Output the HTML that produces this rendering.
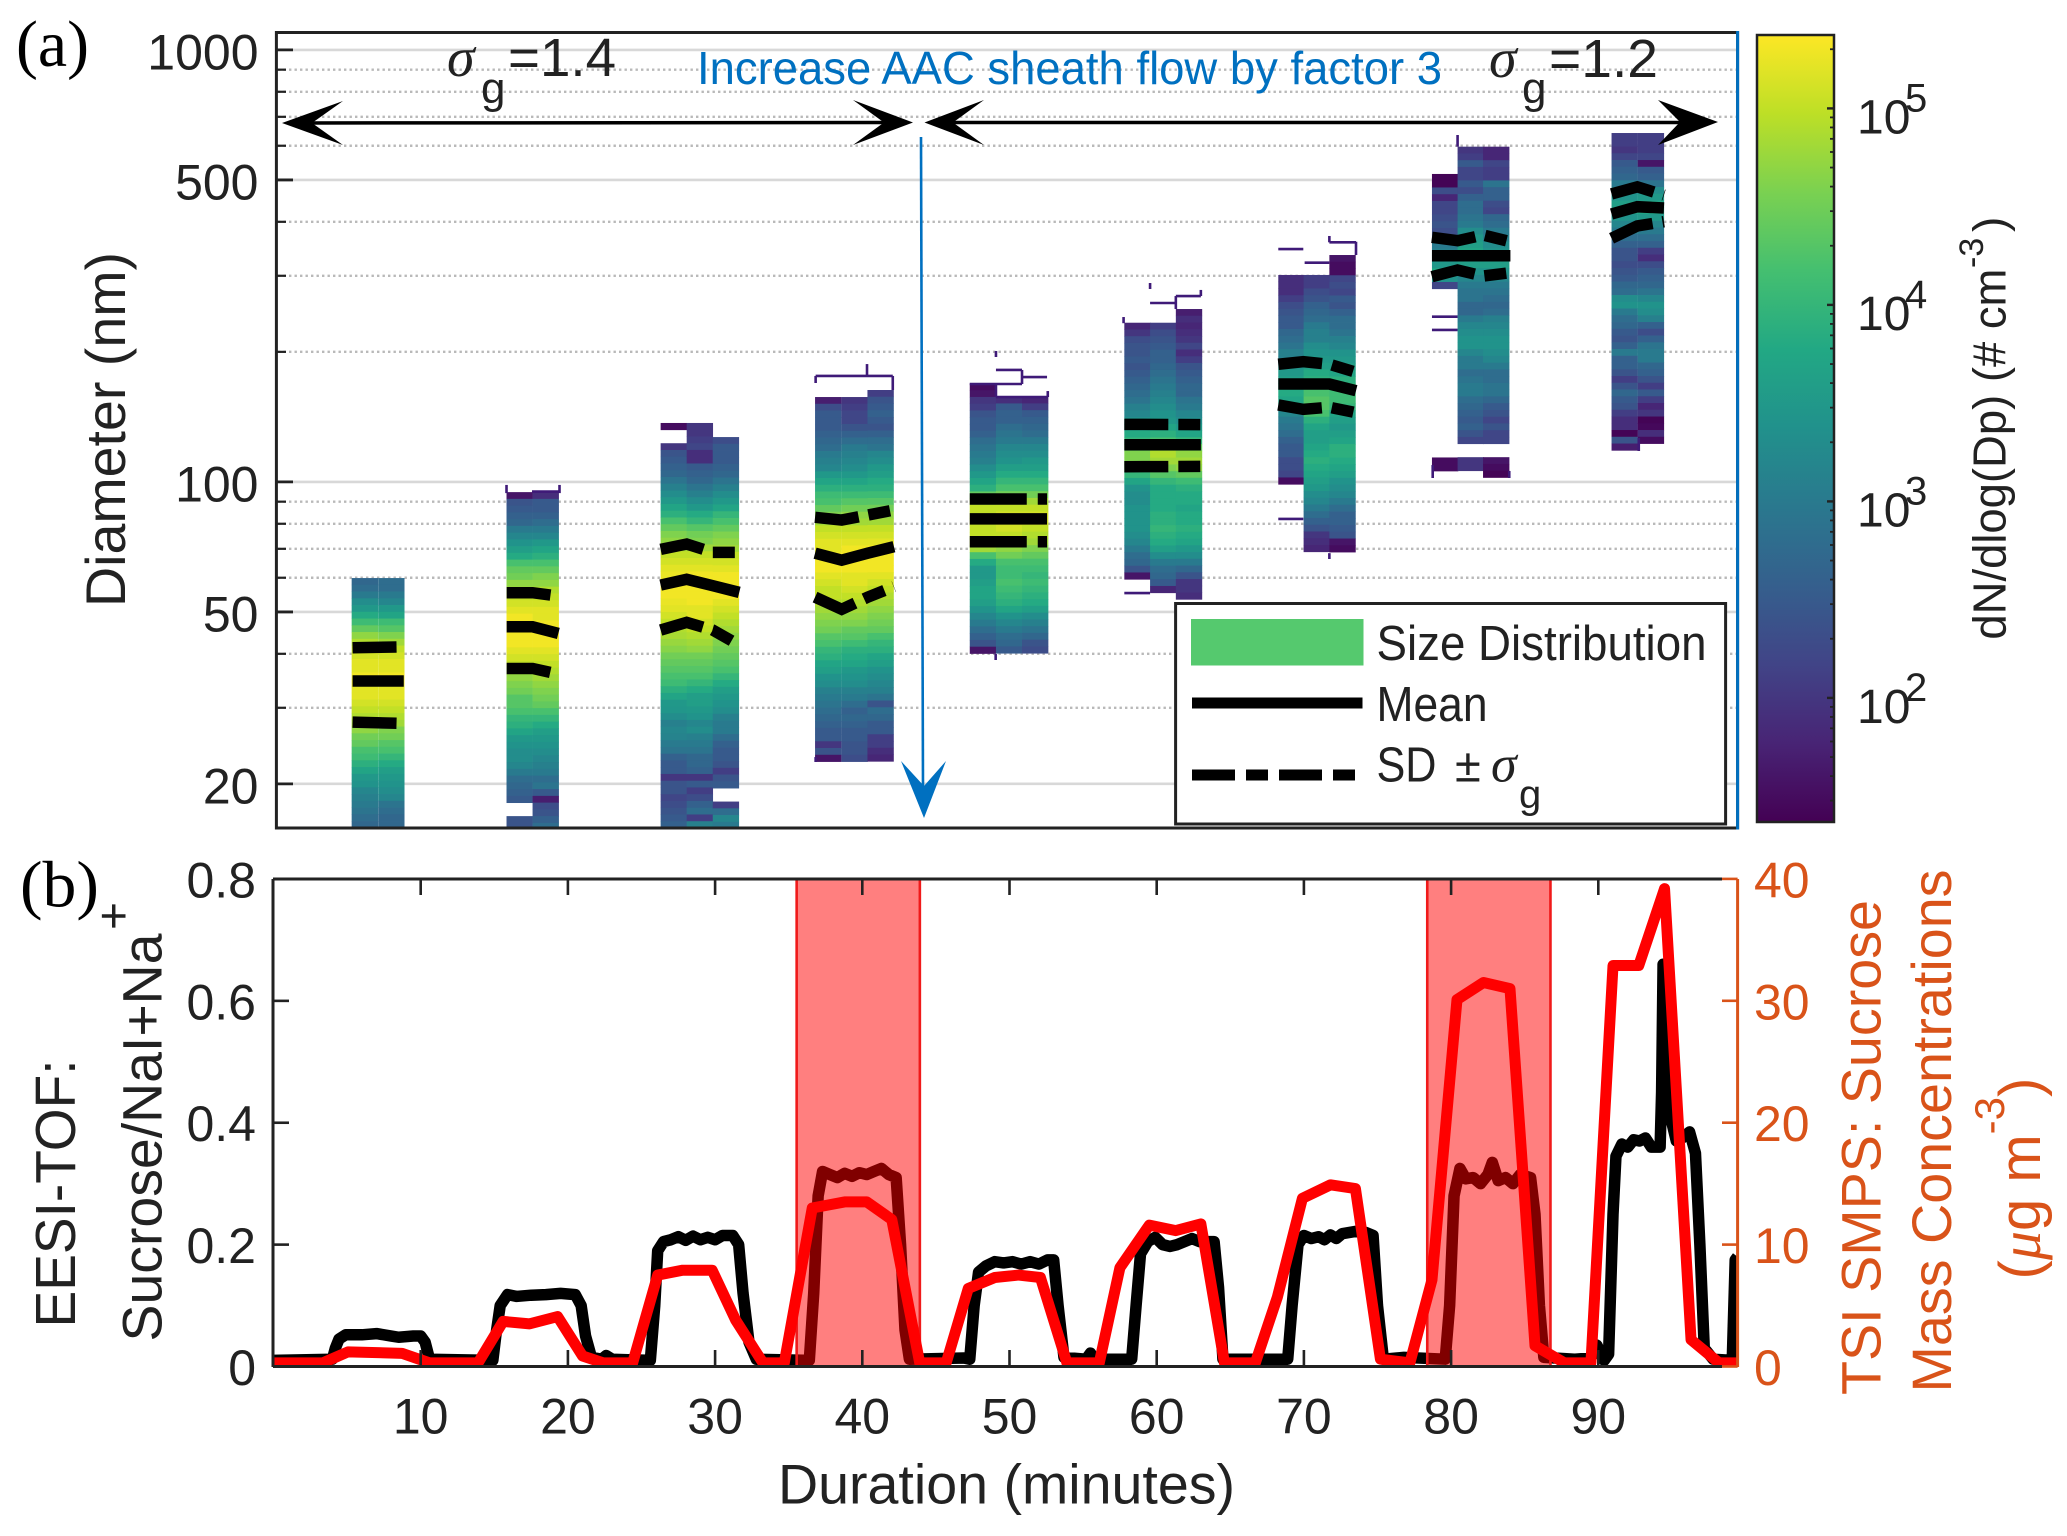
<!DOCTYPE html>
<html lang="en">
<head>
<meta charset="utf-8">
<title>Size distribution and sucrose mass concentration</title>
<style>
html,body{margin:0;padding:0;background:#fff;}
svg{display:block;}
text{font-family:"Liberation Sans",sans-serif;fill:#222;}
.serif{font-family:"Liberation Serif",serif;}
.orange{fill:#d95319;}
</style>
</head>
<body>
<svg id="figure" xmlns="http://www.w3.org/2000/svg" width="2067" height="1536" viewBox="0 0 2067 1536">
<defs>
<clipPath id="clipA"><rect x="276.4" y="32.5" width="1461.2" height="795.5"/></clipPath>
<clipPath id="clipB"><rect x="273" y="879" width="1464.6" height="487.5"/></clipPath>
<linearGradient id="viridisGrad" x1="0" y1="1" x2="0" y2="0"></linearGradient>
</defs>

<g id="gridA"></g>
<g id="heat"></g>
<g id="stubs" clip-path="url(#clipA)"></g>
<g id="statLines" clip-path="url(#clipA)"></g>

<rect x="276.4" y="32.5" width="1461.2" height="795.5" fill="none" stroke="#222" stroke-width="3"/>
<line x1="1737.6" y1="31" x2="1737.6" y2="829.5" stroke="#0070c0" stroke-width="3"/>
<g id="ticksA"></g>

<g>
<text class="serif" x="447" y="76" font-size="56" font-style="italic">σ</text>
<text x="481" y="103" font-size="44">g</text>
<text x="508" y="76" font-size="54" textLength="108" lengthAdjust="spacingAndGlyphs">=1.4</text>
<line x1="300" y1="123" x2="890" y2="122.5" stroke="#000" stroke-width="3.5"/>
<polygon points="282,123 343,101 312,123 343,145" fill="#000"/>
<polygon points="913,122.5 853,100 884,122.5 853,145" fill="#000"/>
</g>
<g>
<text class="serif" x="1489" y="77" font-size="56" font-style="italic">σ</text>
<text x="1522" y="103" font-size="44">g</text>
<text x="1549" y="77" font-size="54" textLength="109" lengthAdjust="spacingAndGlyphs">=1.2</text>
<line x1="950" y1="122.5" x2="1695" y2="122.5" stroke="#000" stroke-width="3.5"/>
<polygon points="924.5,122.5 984,100 953,122.5 984,145" fill="#000"/>
<polygon points="1718,122 1658,100 1680,122 1658,145" fill="#000"/>
</g>
<g>
<text x="697" y="84" font-size="46" style="fill:#0070c0" textLength="745" lengthAdjust="spacingAndGlyphs">Increase AAC sheath flow by factor 3</text>
<line x1="921" y1="137" x2="923" y2="790" stroke="#0070c0" stroke-width="2.6"/>
<polygon points="924,818 901,761 924,786 946,761" fill="#0070c0"/>
</g>

<g>
<rect x="1175.6" y="603.5" width="550" height="220.5" fill="#fff" stroke="#222" stroke-width="3"/>
<rect x="1191" y="619" width="172.5" height="46.5" fill="#55c96e"/>
<text x="1376.5" y="660" font-size="49" textLength="330" lengthAdjust="spacingAndGlyphs">Size Distribution</text>
<line x1="1192" y1="703" x2="1362.5" y2="703" stroke="#000" stroke-width="11"/>
<text x="1376.5" y="721" font-size="49" textLength="111" lengthAdjust="spacingAndGlyphs">Mean</text>
<line x1="1192" y1="775" x2="1356" y2="775" stroke="#000" stroke-width="11" stroke-dasharray="43 11 22 11"/>
<text x="1376.5" y="781.5" font-size="49" textLength="60" lengthAdjust="spacingAndGlyphs">SD</text>
<text x="1455" y="781.5" font-size="47">±</text>
<text class="serif" x="1491" y="781.5" font-size="52" font-style="italic">σ</text>
<text x="1519" y="807.5" font-size="40">g</text>
</g>

<g id="colorbar">
<rect x="1757" y="35" width="77" height="787" fill="url(#viridisGrad)" stroke="#222" stroke-width="2.5"/>
</g>
<text transform="translate(2005.7,639.6) rotate(-90)" font-size="46" textLength="371" lengthAdjust="spacingAndGlyphs">dN/dlog(Dp) (# cm</text>
<text transform="translate(1983,268) rotate(-90)" font-size="34">-3</text>
<text transform="translate(2005.7,232) rotate(-90)" font-size="46">)</text>

<text class="serif" x="16" y="66" font-size="66" textLength="73" lengthAdjust="spacingAndGlyphs" style="fill:#000">(a)</text>
<text transform="translate(125,607) rotate(-90)" font-size="56" textLength="355" lengthAdjust="spacingAndGlyphs">Diameter (nm)</text>

<!-- Panel b -->
<g id="seriesBlack" clip-path="url(#clipB)"></g>
<g id="patches"></g>
<g id="seriesRed" clip-path="url(#clipB)"></g>
<line x1="273" y1="879" x2="273" y2="1367" stroke="#222" stroke-width="3"/>
<line x1="273" y1="879" x2="1722" y2="879" stroke="#222" stroke-width="3"/>
<line x1="273" y1="1366.5" x2="1722" y2="1366.5" stroke="#222" stroke-width="3"/>
<line x1="1737.6" y1="879" x2="1737.6" y2="1367" stroke="#d95319" stroke-width="3"/>
<g id="ticksB"></g>

<text class="serif" x="20" y="906.5" font-size="66" textLength="79" lengthAdjust="spacingAndGlyphs" style="fill:#000">(b)</text>
<text transform="translate(75,1327.5) rotate(-90)" font-size="57" textLength="268" lengthAdjust="spacingAndGlyphs">EESI-TOF:</text>
<text transform="translate(161.5,1341.5) rotate(-90)" font-size="56" textLength="408" lengthAdjust="spacingAndGlyphs">Sucrose/NaI+Na</text>
<text transform="translate(130,930) rotate(-90)" font-size="48">+</text>
<text x="778" y="1503.5" font-size="56" textLength="457" lengthAdjust="spacingAndGlyphs">Duration (minutes)</text>
<text class="orange" transform="translate(1880.5,1395) rotate(-90)" font-size="56" textLength="495" lengthAdjust="spacingAndGlyphs">TSI SMPS: Sucrose</text>
<text class="orange" transform="translate(1951,1392.5) rotate(-90)" font-size="56" textLength="523" lengthAdjust="spacingAndGlyphs">Mass Concentrations</text>
<text class="orange" transform="translate(2040,1279.5) rotate(-90)" font-size="58">(<tspan class="serif orange" font-style="italic">μ</tspan>g m<tspan class="orange" font-size="42" dy="-36">-3</tspan><tspan class="orange" font-size="58" dy="36">)</tspan></text>

<script>
// ---------- Panel (a): ticks ----------
const diameterMajorTicks = [1000, 500, 100, 50, 20];
const diameterMinorTicks = [900, 800, 700, 600, 400, 300, 200, 90, 80, 70, 60, 40, 30];
const colorbarDecades = [2, 3, 4, 5];
const viridisStops = ['#440154','#482475','#414487','#355f8d','#2a788e','#21918c','#22a884','#44bf70','#7ad151','#bddf26','#fde725'];
const colorLogMin = 1.37;
const colorLogMax = 5.37;
const binsPerDecade = 64;
const scanWidthMin = 1.79;

// ---------- Panel (a): scans (minutes, upper diameter in nm, log10 dN/dlogDp top-to-bottom) ----------
const scanStart = [5.31,7.11, 15.83,17.6, 26.3,28.07,29.84, 36.79,38.58,40.35, 47.3,49.08,50.85, 57.8,59.55,61.3, 68.26,69.98,71.73, 78.7,80.44,82.17, 90.9,92.68];
const scanTopNm = [59.9,59.9, 94.7,94.7, 136.9,136.9,127, 157.2,157.2,163.2, 169,157.5,157.5, 233.6,233.6,251.3, 301.3,301.3,335.1, 516.2,597,597, 642.1,642.1];
const scanLog = [
[2.7,2.8,3.0,3.3,3.5,3.8,4.1,4.4,4.7,4.9,5.0,5.1,5.2,5.2,5.3,5.3,5.2,5.2,5.1,5.0,4.9,4.8,4.7,4.5,4.4,4.2,4.1,3.9,3.7,3.5,3.4,3.2,3.1,3.0,2.9,2.8,2.7],
[2.8,2.8,3.0,3.2,3.5,3.7,4.1,4.3,4.6,4.8,5.0,5.1,5.2,5.2,5.3,5.3,5.2,5.2,5.1,5.0,4.9,4.8,4.6,4.5,4.3,4.2,4.0,3.8,3.6,3.5,3.4,3.3,3.2,2.9,2.8,2.7,2.7],
[1.6,2.4,2.5,2.6,2.7,3.0,3.2,3.4,3.6,3.8,4.2,4.4,4.5,4.7,4.8,5.0,5.1,5.2,5.3,5.3,5.3,5.3,5.3,5.2,5.1,5.0,4.8,4.7,4.6,4.5,4.3,4.3,4.2,4.0,3.9,3.7,3.5,3.4,3.3,3.3,3.2,3.0,2.8,2.7,2.6,2.5,null,null,2.4,2.4],
[1.9,2.5,2.5,2.6,2.8,3.0,3.2,3.5,3.7,3.9,4.2,4.4,4.6,4.7,4.9,5.0,5.1,5.2,5.2,5.3,5.3,5.3,5.3,5.2,5.1,5.0,4.9,4.8,4.7,4.6,4.5,4.4,4.2,4.0,3.8,3.6,3.5,3.4,3.3,3.2,3.1,3.0,2.8,2.9,2.5,1.7,2.3,2.4,2.6,2.8],
[1.5,null,null,2.0,2.4,2.5,2.6,2.7,2.9,3.1,3.3,3.5,3.7,3.9,4.2,4.4,4.6,4.7,4.8,5.0,5.1,5.2,5.25,5.3,5.3,5.3,5.25,5.2,5.1,5.0,4.9,4.85,4.75,4.65,4.5,4.4,4.3,4.2,4.1,3.9,3.7,3.5,3.45,3.3,3.1,3.2,3.15,3.0,2.9,2.6,2.5,2.5,2.0,2.4,2.4,2.2,2.3,2.4,2.5,2.6],
[2.0,2.0,2.1,2.2,1.9,1.9,2.5,2.6,2.7,2.9,3.1,3.3,3.5,3.8,4.0,4.3,4.5,4.6,4.8,5.0,5.1,5.2,5.3,5.3,5.3,5.3,5.3,5.2,5.2,5.1,5.0,4.9,4.8,4.7,4.5,4.4,4.3,4.2,4.0,3.8,3.6,3.6,3.5,3.4,3.2,3.3,3.1,3.0,2.9,2.7,2.7,2.6,2.0,2.5,2.1,2.3,2.6,2.8,2.1,3.1],
[2.3,2.5,2.5,2.5,2.6,2.7,2.9,3.1,3.3,3.5,3.7,4.0,4.2,4.4,4.6,4.7,4.8,5.0,5.1,5.2,5.3,5.3,5.3,5.3,5.2,5.1,5.0,4.9,4.8,4.7,4.6,4.5,4.4,4.3,4.2,4.0,3.8,3.6,3.5,3.4,3.3,3.1,3.0,3.0,2.8,2.6,2.5,2.5,2.4,2.1,2.4,2.5,null,null,2.1,2.8,3.2,3.0],
[1.7,2.3,2.5,2.5,2.5,2.6,2.7,2.8,3.0,3.1,3.2,3.5,3.7,3.9,4.1,4.2,4.4,4.6,4.8,5.0,5.1,5.2,5.2,5.3,5.3,5.3,5.2,5.1,5.0,5.0,4.9,4.8,4.7,4.6,4.5,4.3,4.2,4.0,3.9,3.7,3.6,3.4,3.3,3.1,3.0,2.9,2.8,2.7,2.6,2.5,2.5,2.0,2.4,1.6],
[2.0,2.1,2.2,2.2,2.4,2.6,2.8,3.0,3.1,3.2,3.3,3.5,3.7,3.9,4.1,4.3,4.5,4.7,4.8,5.0,5.1,5.2,5.3,5.3,5.3,5.3,5.2,5.2,5.1,5.0,4.9,4.8,4.7,4.6,4.4,4.3,4.1,3.9,3.8,3.7,3.5,3.4,3.3,3.1,3.0,2.8,2.6,2.7,2.6,2.5,2.5,2.4,2.4,2.3],
[2.1,2.4,2.5,2.6,2.5,2.4,2.6,2.8,2.9,3.2,3.3,3.5,3.6,3.8,3.9,4.1,4.3,4.5,4.7,4.8,5.0,5.1,5.2,5.3,5.3,5.3,5.3,5.2,5.1,5.0,4.9,4.8,4.7,4.6,4.5,4.4,4.2,4.0,3.9,3.7,3.6,3.4,3.3,3.2,3.1,2.9,2.4,2.8,2.7,2.5,2.5,2.1,2.1,1.9,1.8],
[1.5,1.6,2.0,2.1,2.4,2.5,2.5,2.6,2.8,2.9,3.0,3.1,3.3,3.5,3.7,3.9,4.4,4.8,5.0,5.0,5.0,5.0,5.0,4.9,4.8,4.2,3.8,3.5,3.5,3.6,3.7,3.7,3.6,3.4,3.2,3.0,2.8,2.6,2.4,1.6],
[1.9,2.5,2.6,2.6,2.8,2.9,3.0,3.2,3.3,3.4,3.6,3.8,4.0,4.2,4.5,4.8,5.0,5.1,5.1,5.1,5.0,4.9,4.7,4.5,4.2,4.1,4.1,4.2,4.1,4.0,3.9,3.7,3.4,3.2,3.0,2.8,2.7,2.5],
[1.8,2.1,2.5,2.6,2.7,2.8,3.0,3.2,3.3,3.5,3.6,3.8,4.0,4.2,4.5,4.8,5.0,5.1,5.1,5.0,4.9,4.8,4.6,4.4,4.2,4.1,4.0,4.1,4.0,3.9,3.8,3.6,3.3,3.1,2.9,2.7,2.4,2.3],
[1.8,2.0,2.3,2.4,2.4,2.5,2.4,2.5,2.6,2.7,2.8,2.9,3.1,3.2,3.4,3.6,3.8,4.0,4.4,4.6,4.6,4.4,4.0,3.7,3.4,3.3,3.3,3.4,3.4,3.4,3.4,3.3,3.2,3.0,2.8,2.7,2.4,1.6],
[2.1,2.3,2.4,2.5,2.6,2.6,2.7,2.8,2.9,3.0,3.1,3.2,3.3,3.4,3.5,3.7,3.9,4.2,4.7,4.9,4.8,4.6,4.3,4.0,3.8,3.8,3.8,3.8,3.9,3.9,4.0,3.9,3.8,3.6,3.3,3.0,2.8,2.7,2.5,1.8],
[1.7,1.9,1.8,1.9,2.0,2.2,1.9,2.1,2.4,2.5,2.6,2.7,2.7,2.9,3.0,3.2,3.3,3.5,3.7,4.0,4.4,4.7,4.8,4.7,4.4,4.1,3.9,3.8,3.8,3.7,3.8,3.8,3.9,3.8,3.7,3.5,3.3,3.0,2.7,2.4,2.0,2.0,1.9],
[1.9,1.9,1.9,2.1,2.3,2.4,2.5,2.5,2.7,2.8,2.9,3.1,3.1,3.4,3.5,3.6,3.7,3.8,3.7,3.4,3.2,3.0,2.9,2.8,2.6,2.5,2.5,2.3,2.3,2.2,1.5],
[2.1,2.1,2.3,2.4,2.6,2.7,2.8,3.0,3.1,3.1,3.3,3.4,3.5,3.6,3.8,3.9,4.0,4.2,4.3,4.3,4.2,3.9,3.7,3.6,3.6,3.7,3.8,3.9,3.8,3.7,3.6,3.5,3.3,3.2,3.0,2.8,2.6,2.4,2.0,1.9,1.8],
[1.6,1.5,1.5,2.2,2.3,2.2,2.5,2.4,2.6,2.8,2.8,2.9,3.1,3.2,3.4,3.5,3.6,3.7,3.9,4.0,4.1,4.1,4.0,3.7,3.6,3.5,3.6,3.7,3.9,3.9,3.8,3.7,3.6,3.4,3.3,3.2,3.0,2.8,2.6,2.6,2.5,2.4,1.6,1.5],
[1.4,1.4,2.3,1.8,2.2,2.2,2.3,2.4,2.3,2.5,3.0,3.1,3.3,3.5,3.8,3.4,2.2,null,null,null,null,null,null,null,null,null,null,null,null,null,null,null,null,null,null,null,null,null,null,null,null,null,1.5,1.5],
[2.0,2.1,2.5,2.2,2.2,2.5,2.3,2.6,2.8,2.8,2.9,3.0,3.3,3.5,3.6,3.7,3.9,3.6,3.4,3.2,3.0,2.9,2.9,2.7,2.7,3.0,3.2,3.3,3.4,3.4,3.2,3.0,3.0,2.8,2.9,3.0,3.0,2.8,2.7,2.6,2.5,2.6,2.4,2.2,null,null,2.0,2.0],
[1.8,1.8,2.2,2.1,2.1,2.9,2.6,2.6,2.3,2.2,2.7,2.8,3.0,3.1,3.3,3.4,3.8,3.6,3.4,3.2,3.0,2.9,2.8,2.7,2.8,3.1,3.2,3.3,3.4,3.4,3.3,3.2,3.0,2.8,2.8,2.9,2.9,2.7,2.5,2.4,2.2,2.4,2.2,2.2,null,null,1.6,1.5,1.4],
[2.1,2.1,2.0,2.2,2.5,2.6,2.7,3.0,3.2,3.4,3.6,3.6,3.4,3.2,3.0,2.8,2.6,2.4,2.4,2.3,2.4,2.5,2.7,2.8,3.3,3.4,3.0,2.8,2.7,2.5,2.4,2.6,3.0,2.6,2.6,2.4,2.1,2.4,2.7,2.5,2.4,2.1,1.9,1.9,1.4,2.4,1.7],
[2.1,2.1,2.1,2.2,1.6,2.5,2.6,2.9,3.3,3.5,3.7,3.7,3.5,3.2,3.0,2.8,2.6,2.1,1.9,2.3,2.5,2.6,2.7,2.9,3.2,3.4,3.3,3.1,2.6,2.3,2.6,2.9,3.0,3.0,2.7,2.6,2.4,2.1,2.5,2.1,1.8,2.0,1.4,1.45,1.9,1.5]
];

// Thin traces of single occupied bins: [start min, end min, nm] and [min, nm, nm]
const stubHorizontal = [[17.56,19.43,95],[36.83,42.07,175.9],[49.08,50.85,181.6],[47.3,50.85,168.5],[50.85,52.55,174.9],[49.08,52.6,157.2],[59.55,61.3,259.5],[61.3,63.0,269.3],[57.8,59.55,55.3],[68.26,69.96,346],[70.05,71.73,321.7],[71.73,73.54,358.6],[68.26,69.96,82.1],[78.7,80.44,241.2],[78.7,80.44,224.8]];
const stubVertical = [[15.83,98.4,94.2],[19.43,98.4,94.2],[36.83,175.9,169.4],[40.32,187.4,175.9],[42.07,175.9,163.2],[36.83,23.07,22.47],[49.08,200.9,194.6],[50.85,181.6,168.5],[49.08,168.5,157.2],[52.6,162.3,157.2],[49.06,39.96,38.7],[59.55,288.7,279.6],[61.3,269.3,251.3],[63.0,278.2,269.3],[57.75,240.8,233],[73.54,359.7,335.1],[71.73,370.9,358.6],[71.73,68.4,66.3],[80.44,635.3,597],[78.75,109.4,102.1],[83.95,106,102.1],[92.75,126.4,117.9]];

// Mean and ±sigma traces for each size-selected period
const statTimes = [[5.37,8.85],[15.84,17.6,19.35],[26.3,28.07,29.84,31.64],[36.79,38.6,40.37,42.15],[47.3,52.55],[57.8,63.0],[68.26,69.96,71.73,73.54],[78.7,80.44,82.17,84.03],[90.9,92.65,94.46]];
const statMeanNm = [[34.6,34.6],[46.2,46.2,44.6],[57.7,59.5,57.5,55.5],[68.4,65.9,68.4,70.8],[82.1,82.1],[121.9,121.9],[168.5,168.5,168.5,162.6],[333.9,333.9,333.9,333.9],[417,433.5,430.5]];
const statUpperNm = [[41.3,41.5],[55.4,55.4,54.4],[69.8,71.8,68.7,68.7],[82.8,81.6,83.8,86.1],[91.3,91.3],[135.9,135.7],[187.2,189.8,187.2,179.4],[368.3,361.7,372.8,359.7],[464,482,461]];
const statLowerNm = [[27.8,27.6],[37,37,35.9],[45.4,47.3,45.4,41.9],[54.1,50.7,54.1,57.2],[72.7,72.7],[108.4,108.6],[150.7,147.2,148.9,144.6],[298.5,309.4,299.6,305],[366.4,391.2,400.3]];

// ---------- Panel (b) ----------
const xTickValues = [10,20,30,40,50,60,70,80,90];
const leftTickValues = [0,0.2,0.4,0.6,0.8];
const leftTickLabels = ['0','0.2','0.4','0.6','0.8'];
const rightTickValues = [0,10,20,30,40];
const highlightStart = [35.54,78.38];
const highlightEnd = [43.91,86.75];
const eesiTimes = [0,4.0,4.2,4.45,4.9,6,7,8,8.5,9.5,10,10.3,10.6,14.9,15.1,15.4,15.9,16.5,17.5,18.5,19.5,20.5,20.9,21.2,21.6,22.3,22.6,23,25.6,25.9,26.1,26.5,27,27.5,28,28.5,29,29.5,30,30.5,31.2,31.6,31.9,32.3,32.8,36.4,36.7,37,37.3,37.8,38.3,38.8,39.3,39.8,40.3,40.8,41.3,41.8,42.3,42.6,42.9,43.2,46.9,47.3,47.6,47.9,48.4,49,49.6,50.2,50.8,51.4,52,52.6,53,53.3,53.7,55.2,55.5,55.8,58.3,58.6,58.9,59.4,59.9,60.4,60.9,61.4,61.9,62.4,62.9,63.4,63.9,64.2,64.5,68.9,69.2,69.6,70,70.5,71,71.4,71.8,72.2,72.6,73.1,73.6,74.2,74.7,75,75.4,76.8,79.6,79.9,80.2,80.6,81,81.5,82,82.5,82.8,83.2,83.7,84.2,84.7,85.4,85.7,86,86.3,88.4,89.5,89.9,90.4,90.7,91,91.2,91.6,92,92.4,92.8,93.2,93.6,94.2,94.3,94.4,94.7,94.95,95.3,95.7,96.2,96.6,96.9,97.2,97.8,99.1,99.3,99.46];
const eesiValues = [0.01,0.012,0.03,0.045,0.052,0.052,0.054,0.05,0.048,0.05,0.05,0.04,0.012,0.01,0.05,0.10,0.118,0.115,0.117,0.118,0.12,0.118,0.10,0.05,0.015,0.012,0.018,0.012,0.01,0.1,0.19,0.205,0.208,0.213,0.207,0.214,0.208,0.212,0.208,0.215,0.215,0.2,0.12,0.04,0.012,0.01,0.12,0.28,0.32,0.315,0.31,0.317,0.312,0.318,0.315,0.32,0.325,0.315,0.31,0.2,0.06,0.012,0.014,0.012,0.1,0.155,0.165,0.172,0.17,0.172,0.168,0.172,0.168,0.175,0.175,0.1,0.015,0.012,0.022,0.012,0.012,0.1,0.185,0.205,0.212,0.2,0.197,0.2,0.205,0.21,0.205,0.205,0.205,0.13,0.012,0.012,0.1,0.2,0.215,0.21,0.213,0.208,0.216,0.21,0.218,0.22,0.222,0.22,0.215,0.1,0.012,0.015,0.012,0.1,0.28,0.325,0.308,0.31,0.3,0.315,0.335,0.305,0.31,0.3,0.315,0.31,0.25,0.1,0.015,0.012,0.014,0.035,0.01,0.02,0.25,0.345,0.365,0.36,0.372,0.37,0.375,0.36,0.36,0.45,0.66,0.5,0.405,0.37,0.375,0.385,0.35,0.2,0.03,0.012,0.01,0.175,0.18];
const smpsTimes = [0,3.36,5.06,8.73,10.6,13.9,15.6,17.4,19.3,21,22.4,24.4,26.1,27.8,29.8,31.4,33.25,34.7,36.6,38.8,40.3,42,43.9,45.7,47.2,49,50.6,52.1,53.9,56.1,57.5,59.5,61.3,63,64.6,66.7,68.2,69.9,71.8,73.5,75.2,77.2,78.7,80.4,82.2,84,85.7,87.7,89.5,91,92.75,94.5,96.3,98.2,99.46];
const smpsValues = [0.3,0.3,1.2,1.08,0.3,0.3,3.7,3.5,4.1,0.86,0.3,0.3,7.5,7.9,7.9,3.8,0.3,0.3,13,13.5,13.5,12.06,0.3,0.3,6.4,7.3,7.5,7.3,0.3,0.3,8.1,11.6,11.15,11.7,0.3,0.3,5.7,13.8,14.9,14.6,0.6,0.3,7.1,30.1,31.5,31,1.7,0.3,0.3,32.9,32.9,39.2,2.2,0.3,0.3];

// ---------- Axis functions ----------
const xScale = t => 273.5 + 14.72 * t;
const yDiameter = nm => 481.9 - 432 * Math.log10(nm / 100);
const yRatio = v => 1366.5 - 609.4 * v;
const yMass = c => 1366.5 - 12.19 * c;
const yColorbar = logValue => 108.4 + (5 - logValue) * 196.5;

const NS = 'http://www.w3.org/2000/svg';
function make(tag, parentId) {
  const node = document.createElementNS(NS, tag);
  document.getElementById(parentId).appendChild(node);
  return node;
}
function viridis(logValue) {
  const p = Math.max(0, Math.min(1, (logValue - colorLogMin) / (colorLogMax - colorLogMin))) * (viridisStops.length - 1);
  const i = Math.min(viridisStops.length - 2, Math.floor(p));
  const f = p - i;
  const a = parseInt(viridisStops[i].slice(1), 16);
  const b = parseInt(viridisStops[i + 1].slice(1), 16);
  const mix = s => Math.round(((a >> s) & 255) * (1 - f) + ((b >> s) & 255) * f);
  return 'rgb(' + mix(16) + ',' + mix(8) + ',' + mix(0) + ')';
}
function polyPoints(xs, ys) {
  return xs.map((x, i) => x.toFixed(2) + ',' + ys[i].toFixed(2)).join(' ');
}

// Gradient stops for colorbar
viridisStops.forEach((color, i) => {
  const stop = make('stop', 'viridisGrad');
  stop.setAttribute('offset', (i / (viridisStops.length - 1)).toFixed(2));
  stop.setAttribute('stop-color', color);
  
  
});

// Diameter grid and ticks
diameterMajorTicks.forEach(nm => {
  const y = yDiameter(nm);
  const grid = make('line', 'gridA');
  grid.setAttribute('x1', 278);
  grid.setAttribute('x2', 1736);
  grid.setAttribute('y1', y);
  grid.setAttribute('y2', y);
  grid.setAttribute('stroke', '#d8d8d8');
  grid.setAttribute('stroke-width', 2.6);
  
  
  const tick = make('line', 'ticksA');
  tick.setAttribute('x1', 276.4);
  tick.setAttribute('x2', 293);
  tick.setAttribute('y1', y);
  tick.setAttribute('y2', y);
  tick.setAttribute('stroke', '#222');
  tick.setAttribute('stroke-width', 2.8);
  
  
  const label = make('text', 'ticksA');
  label.setAttribute('x', 258.5);
  label.setAttribute('y', y + 19.5);
  label.setAttribute('font-size', 50);
  label.setAttribute('text-anchor', 'end');
  
  
  label.textContent = String(nm);
});
diameterMinorTicks.forEach(nm => {
  const y = yDiameter(nm);
  const grid = make('line', 'gridA');
  grid.setAttribute('x1', 278);
  grid.setAttribute('x2', 1736);
  grid.setAttribute('y1', y);
  grid.setAttribute('y2', y);
  grid.setAttribute('stroke', '#b9b9b9');
  grid.setAttribute('stroke-width', 2.4);
  grid.setAttribute('stroke-dasharray', '2.4 3.1');
  
  
  const tick = make('line', 'ticksA');
  tick.setAttribute('x1', 276.4);
  tick.setAttribute('x2', 286);
  tick.setAttribute('y1', y);
  tick.setAttribute('y2', y);
  tick.setAttribute('stroke', '#222');
  tick.setAttribute('stroke-width', 2.2);
  
  
});

// Heatmap cells
scanLog.forEach((values, c) => {
  const x0 = xScale(scanStart[c]);
  const x1 = xScale(scanStart[c] + scanWidthMin);
  values.forEach((value, i) => {
    if (value === null) return;
    const upper = scanTopNm[c] / Math.pow(10, i / binsPerDecade);
    const lower = scanTopNm[c] / Math.pow(10, (i + 1) / binsPerDecade);
    const yTop = yDiameter(upper);
    const yBottom = Math.min(828, yDiameter(lower));
    if (yTop >= 828) return;
    const cell = make('rect', 'heat');
    cell.setAttribute('x', x0.toFixed(2));
    cell.setAttribute('y', yTop.toFixed(2));
    cell.setAttribute('width', (x1 - x0).toFixed(2));
    cell.setAttribute('height', (yBottom - yTop + 0.4).toFixed(2));
    cell.setAttribute('fill', viridis(value));
    
    
  });
});

// Sparse traces
stubHorizontal.forEach(s => {
  const seg = make('line', 'stubs');
  seg.setAttribute('x1', xScale(s[0]));
  seg.setAttribute('x2', xScale(s[1]));
  seg.setAttribute('y1', yDiameter(s[2]));
  seg.setAttribute('y2', yDiameter(s[2]));
  seg.setAttribute('stroke', '#3f1a78');
  seg.setAttribute('stroke-width', 2.6);
  
  
});
stubVertical.forEach(s => {
  const seg = make('line', 'stubs');
  seg.setAttribute('x1', xScale(s[0]));
  seg.setAttribute('x2', xScale(s[0]));
  seg.setAttribute('y1', yDiameter(s[1]));
  seg.setAttribute('y2', yDiameter(s[2]));
  seg.setAttribute('stroke', '#3f1a78');
  seg.setAttribute('stroke-width', 2.6);
  
  
});

// Mean and SD traces
statTimes.forEach((times, b) => {
  const xs = times.map(xScale);
  const sdDash = b === 4 ? '57 11 30 10' : '44 10 22 10';
  const mean = make('polyline', 'statLines');
  mean.setAttribute('points', polyPoints(xs, statMeanNm[b].map(yDiameter)));
  mean.setAttribute('fill', 'none');
  mean.setAttribute('stroke', '#000');
  mean.setAttribute('stroke-width', 11.5);
  
  
  const upper = make('polyline', 'statLines');
  upper.setAttribute('points', polyPoints(xs, statUpperNm[b].map(yDiameter)));
  upper.setAttribute('fill', 'none');
  upper.setAttribute('stroke', '#000');
  upper.setAttribute('stroke-width', 11.5);
  upper.setAttribute('stroke-dasharray', sdDash);
  
  
  const lower = make('polyline', 'statLines');
  lower.setAttribute('points', polyPoints(xs, statLowerNm[b].map(yDiameter)));
  lower.setAttribute('fill', 'none');
  lower.setAttribute('stroke', '#000');
  lower.setAttribute('stroke-width', 11.5);
  lower.setAttribute('stroke-dasharray', sdDash);
  
  
});

// Colorbar ticks and labels
const minorMultipliers = [2, 3, 4, 5, 6, 7, 8, 9];
[1, 2, 3, 4, 5].forEach(decade => {
  minorMultipliers.forEach(m => {
    const logValue = decade + Math.log10(m);
    if (logValue < colorLogMin || logValue > colorLogMax) return;
    const tick = make('line', 'colorbar');
    tick.setAttribute('x1', 1830);
    tick.setAttribute('x2', 1834);
    tick.setAttribute('y1', yColorbar(logValue));
    tick.setAttribute('y2', yColorbar(logValue));
    tick.setAttribute('stroke', '#222');
    tick.setAttribute('stroke-width', 1.8);
    
    
  });
});
colorbarDecades.forEach(decade => {
  const y = yColorbar(decade);
  const tick = make('line', 'colorbar');
  tick.setAttribute('x1', 1827);
  tick.setAttribute('x2', 1834);
  tick.setAttribute('y1', y);
  tick.setAttribute('y2', y);
  tick.setAttribute('stroke', '#222');
  tick.setAttribute('stroke-width', 2.4);
  
  
  const base = make('text', 'colorbar');
  base.setAttribute('x', 1857);
  base.setAttribute('y', y + 25);
  base.setAttribute('font-size', 48);
  
  
  base.textContent = '10';
  const exponent = make('text', 'colorbar');
  exponent.setAttribute('x', 1905);
  exponent.setAttribute('y', y + 3);
  exponent.setAttribute('font-size', 40);
  
  
  exponent.textContent = String(decade);
});

// Panel (b) series
const blackLine = make('polyline', 'seriesBlack');
blackLine.setAttribute('points', polyPoints(eesiTimes.map(xScale), eesiValues.map(yRatio)));
blackLine.setAttribute('fill', 'none');
blackLine.setAttribute('stroke', '#000');
blackLine.setAttribute('stroke-width', 11.5);
blackLine.setAttribute('stroke-linejoin', 'round');



highlightStart.forEach((start, i) => {
  const patch = make('rect', 'patches');
  patch.setAttribute('x', xScale(start));
  patch.setAttribute('y', yRatio(0.8));
  patch.setAttribute('width', xScale(highlightEnd[i]) - xScale(start));
  patch.setAttribute('height', yRatio(0) - yRatio(0.8));
  patch.setAttribute('fill', 'rgba(255,0,0,0.5)');
  patch.setAttribute('stroke', '#f01a1a');
  patch.setAttribute('stroke-width', 2.6);
  
  
});

const redLine = make('polyline', 'seriesRed');
redLine.setAttribute('points', polyPoints(smpsTimes.map(xScale), smpsValues.map(yMass)));
redLine.setAttribute('fill', 'none');
redLine.setAttribute('stroke', '#ff0000');
redLine.setAttribute('stroke-width', 11);
redLine.setAttribute('stroke-linejoin', 'round');



// Panel (b) ticks
xTickValues.forEach(t => {
  const x = xScale(t);
  const bottom = make('line', 'ticksB');
  bottom.setAttribute('x1', x);
  bottom.setAttribute('x2', x);
  bottom.setAttribute('y1', 1366.5);
  bottom.setAttribute('y2', 1350);
  bottom.setAttribute('stroke', '#222');
  bottom.setAttribute('stroke-width', 2.6);
  
  
  const top = make('line', 'ticksB');
  top.setAttribute('x1', x);
  top.setAttribute('x2', x);
  top.setAttribute('y1', 879);
  top.setAttribute('y2', 895);
  top.setAttribute('stroke', '#222');
  top.setAttribute('stroke-width', 2.6);
  
  
  const label = make('text', 'ticksB');
  label.setAttribute('x', x);
  label.setAttribute('y', 1433.5);
  label.setAttribute('font-size', 50);
  label.setAttribute('text-anchor', 'middle');
  
  
  label.textContent = String(t);
});
leftTickValues.forEach((v, i) => {
  const y = yRatio(v);
  const tick = make('line', 'ticksB');
  tick.setAttribute('x1', 273);
  tick.setAttribute('x2', 289);
  tick.setAttribute('y1', y);
  tick.setAttribute('y2', y);
  tick.setAttribute('stroke', '#222');
  tick.setAttribute('stroke-width', 2.6);
  
  
  const label = make('text', 'ticksB');
  label.setAttribute('x', 256);
  label.setAttribute('y', y + 18.5);
  label.setAttribute('font-size', 50);
  label.setAttribute('text-anchor', 'end');
  
  
  label.textContent = leftTickLabels[i];
});
rightTickValues.forEach(c => {
  const y = yMass(c);
  const tick = make('line', 'ticksB');
  tick.setAttribute('x1', 1722);
  tick.setAttribute('x2', 1737.6);
  tick.setAttribute('y1', y);
  tick.setAttribute('y2', y);
  tick.setAttribute('stroke', '#d95319');
  tick.setAttribute('stroke-width', 2.6);
  
  
  const label = make('text', 'ticksB');
  label.setAttribute('x', 1754);
  label.setAttribute('y', y + 18.5);
  label.setAttribute('font-size', 50);
  label.setAttribute('class', 'orange');
  
  
  label.textContent = String(c);
});
</script>
</svg>
</body>
</html>
